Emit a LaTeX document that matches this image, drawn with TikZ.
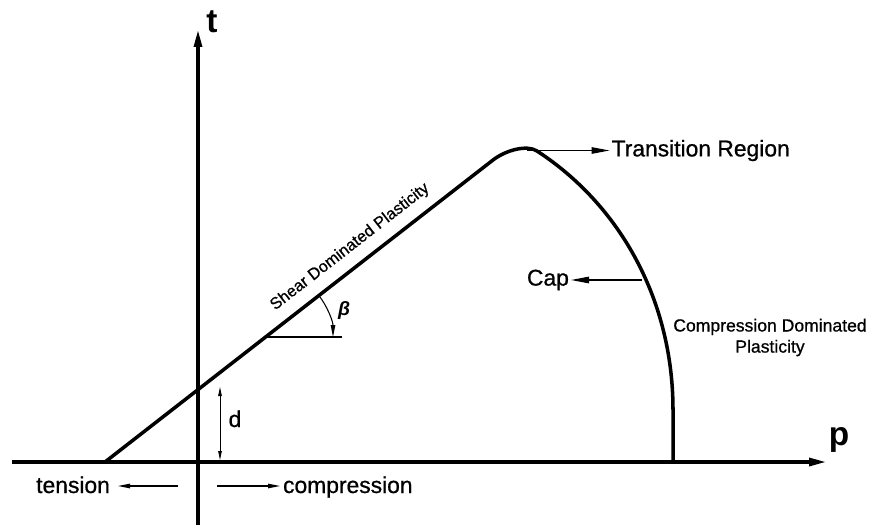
\documentclass[tikz,border=0pt]{standalone}
\usepackage{fontspec}
\setmainfont{Liberation Sans}[UprightFeatures={FakeBold=0.8}]
\usetikzlibrary{arrows.meta, positioning}

\begin{document}
\begin{tikzpicture}[
  every node/.style={font=\fontsize{13}{15}\selectfont, inner sep=1pt},
  axis/.style={line width=2.3pt, -{Triangle[length=3.8mm, width=1.5mm]}},
  yieldsurf/.style={line width=2pt, line join=round},
  pointer/.style={line width=0.7pt, -{Triangle[length=3.6mm, width=1.3mm]}},
  smallarrow/.style={line width=0.6pt, -{Triangle[length=2.4mm, width=0.9mm]}},
  dimarrow/.style={line width=0.5pt, {Triangle[length=1.8mm, width=0.7mm]}-{Triangle[length=1.8mm, width=0.7mm]}},
  axislabel/.style={font=\fontsize{19}{21}\selectfont\bfseries},
  region/.style={font=\fontsize{10}{12}\selectfont, align=center},
]
\useasboundingbox (0,0) rectangle (17.5,10.5);

% Axes
\coordinate (pstart) at (0.24,1.26);
\coordinate (pend) at (16.56,1.26);
\coordinate (tstart) at (3.96,0);
\coordinate (tend) at (3.96,9.94);
\draw[axis] (pstart) -- (pend);
\draw[axis] (tstart) -- (tend);
\node[axislabel] (plbl) at (16.78,1.71) {p};
\node[axislabel] (tlbl) at (4.24,10.07) {t};

% Yield surface: shear line, transition, cap
\coordinate (shear0) at (2.10,1.26);
\coordinate (shear1) at (9.86,7.30);
\coordinate (cap0) at (10.74,7.48);
\coordinate (cap1) at (13.46,2.30);
\coordinate (cap2) at (13.46,1.26);
\draw[yieldsurf] (shear0) -- (shear1)
  .. controls (10.12,7.50) and (10.54,7.61) .. (cap0)
  .. controls (12.40,6.40) and (13.46,4.50) .. (cap1) -- (cap2);

\node[rotate=37.9, font=\fontsize{9.3}{11}\selectfont] (shear) at (7.00,5.56) {Shear Dominated Plasticity};
\node[region] (compdom) at (15.40,3.75) {Compression Dominated\\Plasticity};

% Transition and cap labels
\coordinate (trans) at (10.54,7.49);
\node[anchor=west] (transition) at (12.19,7.49) {Transition Region};
\draw[pointer] (trans) -- (transition.west);

\coordinate (cappt) at (12.84,4.90);
\node[anchor=east] (cap) at (11.42,4.90) {Cap};
\draw[pointer] (cappt) -- (cap.east);

% Friction angle
\coordinate (bvert) at (5.30,3.76);
\coordinate (bhor) at (6.84,3.76);
\draw[line width=0.6pt] (bvert) -- (bhor);
\draw[smallarrow] ([shift=(38:1.36)]bvert) arc[start angle=38, end angle=0, radius=1.36];
\node[font=\fontsize{11}{13}\selectfont\bfseries\itshape] (beta) at (6.88,4.30) {β};

% Cohesion intercept
\coordinate (dtop) at (4.40,2.76);
\coordinate (dbot) at (4.40,1.30);
\draw[dimarrow] (dtop) -- (dbot);
\node[anchor=base] (dlbl) at (4.70,1.96) {d};

% Sign convention
\node[anchor=base east] (tension) at (2.24,0.64) {tension};
\node[anchor=base west] (compression) at (5.62,0.64) {compression};
\coordinate (tenfrom) at (3.56,0.78);
\coordinate (compfrom) at (4.34,0.78);
\draw[smallarrow, shorten >=0.12cm] (tenfrom) -- (tenfrom -| tension.east);
\draw[smallarrow, shorten >=0.02cm] (compfrom) -- (compfrom -| compression.west);

\end{tikzpicture}
\end{document}
